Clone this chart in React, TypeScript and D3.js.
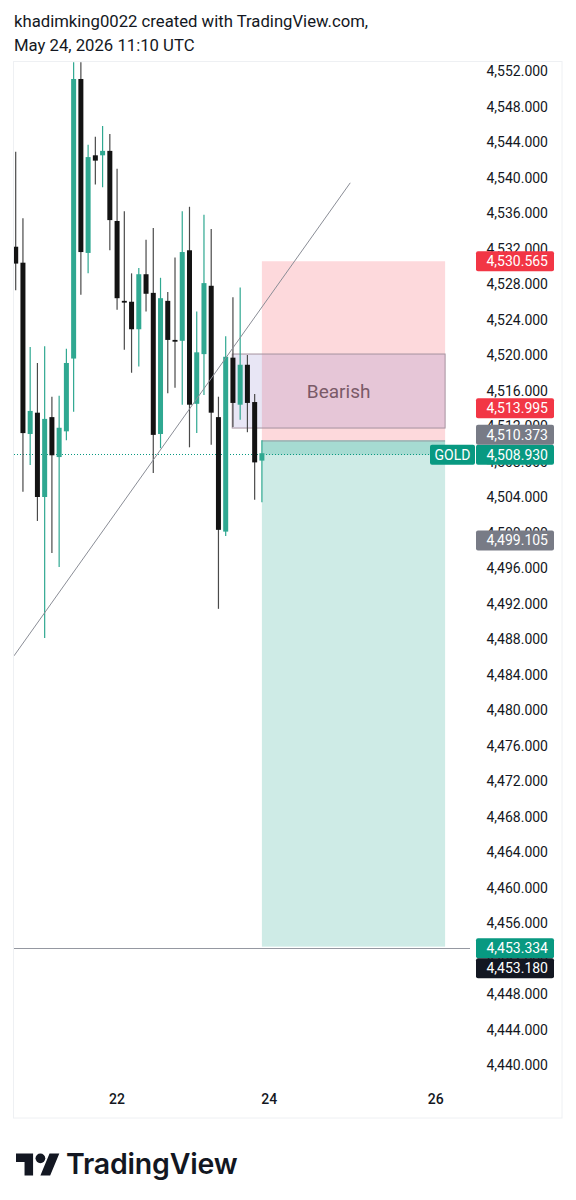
import React from "react";
import * as d3 from "d3";

// ---- Candle data (chronological) ----
const opens = [4532.2, 4530.4, 4511.1, 4513.5, 4504.0, 4513.0, 4508.5, 4511.4, 4519.6, 4551.1, 4531.5, 4542.5, 4542.5, 4543.0, 4535.1, 4526.1, 4526.0, 4522.9, 4529.1, 4527.0, 4511.1, 4526.1, 4521.7, 4521.6, 4531.8, 4514.5, 4520.1, 4527.8, 4513.0, 4500.1, 4519.7, 4514.4, 4518.9, 4514.7, 4508.1];
const highs = [4542.9, 4535.4, 4520.9, 4519.1, 4521.0, 4515.3, 4515.4, 4520.7, 4553.0, 4553.0, 4543.7, 4544.6, 4545.8, 4544.9, 4541.0, 4536.2, 4529.2, 4529.8, 4533.0, 4534.3, 4528.7, 4527.1, 4531.0, 4536.2, 4536.7, 4524.9, 4535.8, 4534.2, 4515.3, 4522.1, 4526.5, 4527.6, 4520.0, 4515.6, 4510.4];
const lows = [4527.3, 4504.6, 4507.6, 4501.3, 4488.1, 4497.7, 4496.1, 4510.4, 4513.6, 4526.8, 4529.2, 4539.2, 4538.9, 4531.8, 4525.1, 4520.6, 4518.0, 4518.7, 4524.9, 4506.7, 4509.5, 4515.7, 4516.3, 4514.4, 4509.6, 4511.2, 4515.5, 4509.9, 4491.4, 4499.6, 4511.9, 4512.7, 4511.3, 4503.7, 4503.4];
const closes = [4530.3, 4511.2, 4513.7, 4504.0, 4512.8, 4508.7, 4511.8, 4519.1, 4551.1, 4531.6, 4542.3, 4541.9, 4543.0, 4535.2, 4526.4, 4525.9, 4522.9, 4529.1, 4526.9, 4511.0, 4526.4, 4521.7, 4521.5, 4531.6, 4514.4, 4520.3, 4528.1, 4513.5, 4500.3, 4519.8, 4514.6, 4518.9, 4514.6, 4507.9, 4508.93];

// ---- Axes ----
const priceTicks = d3.range(4440, 4553, 4);
const timeTickIndex = [14, 35, 58];
const timeTickLabels = ["22", "24", "26"];

// ---- Drawings ----
const trendIndex = [-0.235, 46.2];
const trendPrice = [4486.1, 4539.4];
const zoneIndex = [34, 59.3];
const stopPrice = 4530.565;
const entryPrice = 4510.373;
const targetPrice = 4453.334;
const lastPrice = 4508.93;
const hLinePrice = 4453.18;
const boxIndex = [29.9, 59.3];
const boxPrice = [4520.11, 4511.77];
const boxText = "Bearish";

// ---- Price-scale labels ----
const labelPrices = [4530.565, 4513.995, 4510.373, 4508.93, 4499.105, 4453.334, 4453.18];
const labelColors = ["#f23645", "#f23645", "#787b86", "#089981", "#787b86", "#089981", "#131722"];
const labelPriority = [0, 0, 0, 2, 0, 2, 0];

const UP = "#2fa891";
const DOWN = "#131313";
const DOWN_WICK = "#4a4a4a";
const FONT = "Roboto, 'Noto Sans', sans-serif";

export default function App() {
  const W = 576, H = 1200;
  const plotLeft = 14, plotRight = 470, plotTop = 62, plotBottom = 1082;
  const frameRight = 562, frameBottom = 1118;

  const x = d3.scaleLinear().domain([0, 34]).range([15.7, 261.9]);
  const y = d3.scaleLinear().domain([4552, 4440]).range([71, 1065]);
  const fmt = d3.format(",.3f");

  // label layout: high priority fixed, others pushed away
  const boxH = 20;
  const placed: { y: number; i: number }[] = [];
  const order = labelPrices.map((_, i) => i).sort((a, b) => labelPriority[b] - labelPriority[a]);
  order.forEach((i) => {
    let cy = y(labelPrices[i]);
    if (labelPriority[i] > 0) cy = cy + 1.5;
    for (let k = 0; k < 4; k++) {
      for (const p of placed) {
        if (Math.abs(p.y - cy) < boxH) {
          cy = labelPrices[i] > labelPrices[p.i] ? p.y - boxH : p.y + boxH;
        }
      }
    }
    placed.push({ y: cy, i });
  });
  const goldY = placed.find((p) => p.i === 3)!.y;

  const bodyW = 5;

  return (
    <svg width={W} height={H} style={{ position: "absolute", left: 0, top: 0, background: "#fff" }} fontFamily={FONT}>
      <rect x={0} y={0} width={W} height={H} fill="#ffffff" />
      <text x={14} y={26.5} fontSize={16.7} fill="#131722">khadimking0022 created with TradingView.com,</text>
      <text x={14} y={50.5} fontSize={16.7} fill="#131722">May 24, 2026 11:10 UTC</text>

      <rect x={13.5} y={61.5} width={frameRight - 13.5} height={frameBottom - 61.5} fill="none" stroke="#eef0f3" />

      <defs>
        <clipPath id="plot">
          <rect x={plotLeft} y={plotTop} width={plotRight - plotLeft} height={plotBottom - plotTop} />
        </clipPath>
      </defs>

      <g clipPath="url(#plot)">
        {/* position zones */}
        <rect x={x(zoneIndex[0])} y={y(stopPrice)} width={x(zoneIndex[1]) - x(zoneIndex[0])} height={y(entryPrice) - y(stopPrice)} fill="rgba(242,54,69,0.19)" />
        <rect x={x(zoneIndex[0])} y={y(entryPrice)} width={x(zoneIndex[1]) - x(zoneIndex[0])} height={y(targetPrice) - y(entryPrice)} fill="rgba(8,153,129,0.2)" />
        <rect x={x(zoneIndex[0])} y={y(entryPrice)} width={x(zoneIndex[1]) - x(zoneIndex[0])} height={y(lastPrice) - y(entryPrice) + 1.5} fill="rgba(8,153,129,0.2)" />
        <line x1={x(zoneIndex[0])} x2={x(zoneIndex[1])} y1={y(entryPrice) + 0.5} y2={y(entryPrice) + 0.5} stroke="#8f9aa0" strokeWidth={1} />

        {/* horizontal line */}
        <line x1={plotLeft} x2={plotRight} y1={Math.round(y(hLinePrice)) + 0.5} y2={Math.round(y(hLinePrice)) + 0.5} stroke="#9598a1" strokeWidth={1} />

        {/* last price dotted line */}
        <line x1={plotLeft} x2={plotRight} y1={Math.round(y(lastPrice)) + 1.5} y2={Math.round(y(lastPrice)) + 1.5} stroke="#089981" strokeWidth={1} strokeDasharray="1,2" />

        {/* rectangle */}
        <rect x={x(boxIndex[0])} y={y(boxPrice[0])} width={x(boxIndex[1]) - x(boxIndex[0])} height={y(boxPrice[1]) - y(boxPrice[0])} fill="rgba(110,100,190,0.16)" stroke="#a6939f" strokeWidth={1} />

        {/* candles */}
        {opens.map((o, i) => {
          const c = closes[i];
          const up = c >= o;
          const cx = x(i);
          const top = y(Math.max(o, c));
          const bot = y(Math.min(o, c));
          return (
            <g key={i}>
              <line x1={cx} x2={cx} y1={y(highs[i])} y2={y(lows[i])} stroke={up ? UP : DOWN_WICK} strokeWidth={1.2} />
              <rect x={cx - bodyW / 2} y={top} width={bodyW} height={Math.max(1.5, bot - top)} fill={up ? UP : DOWN} />
            </g>
          );
        })}

        <text x={(x(boxIndex[0]) + x(boxIndex[1])) / 2} y={(y(boxPrice[0]) + y(boxPrice[1])) / 2} fontSize={19} fill="#7a5a68" textAnchor="middle" dominantBaseline="central">{boxText}</text>

        {/* trend line */}
        <line x1={x(trendIndex[0])} y1={y(trendPrice[0])} x2={x(trendIndex[1])} y2={y(trendPrice[1])} stroke="#8a8d96" strokeWidth={1} />
      </g>

      {/* price axis ticks */}
      {priceTicks.map((p) => (
        <text key={p} x={548} y={y(p)} fontSize={14} fill="#131722" textAnchor="end" dominantBaseline="central">{fmt(p)}</text>
      ))}

      {/* GOLD symbol label */}
      <rect x={430} y={goldY - boxH / 2} width={45} height={boxH} rx={2} fill="#089981" />
      <text x={452.5} y={goldY} fontSize={14} fill="#fff" textAnchor="middle" dominantBaseline="central">GOLD</text>

      {/* price labels */}
      {placed.map(({ y: cy, i }) => (
        <g key={i}>
          <rect x={476} y={cy - boxH / 2} width={78} height={boxH} rx={2} fill={labelColors[i]} />
          <text x={548} y={cy} fontSize={14} fill="#ffffff" textAnchor="end" dominantBaseline="central">{fmt(labelPrices[i])}</text>
        </g>
      ))}

      {/* time axis */}
      {timeTickIndex.map((t, k) => (
        <text key={t} x={x(t)} y={1099} fontSize={14} fontWeight={500} fill="#131722" textAnchor="middle" dominantBaseline="central">{timeTickLabels[k]}</text>
      ))}

      {/* TradingView logo */}
      <g transform="translate(16,1148.6) scale(1.22)" fill="#131722">
        <path d="M14 22H7V11H0V4h14v18zM28 22h-8l7.5-18h8L28 22z" />
        <circle cx={20} cy={8} r={4} />
      </g>
      <text x={66} y={1174} fontSize={28.5} fontWeight={600} fill="#131722" fontFamily="Inter, Roboto, sans-serif" letterSpacing={-0.2}>TradingView</text>
    </svg>
  );
}
